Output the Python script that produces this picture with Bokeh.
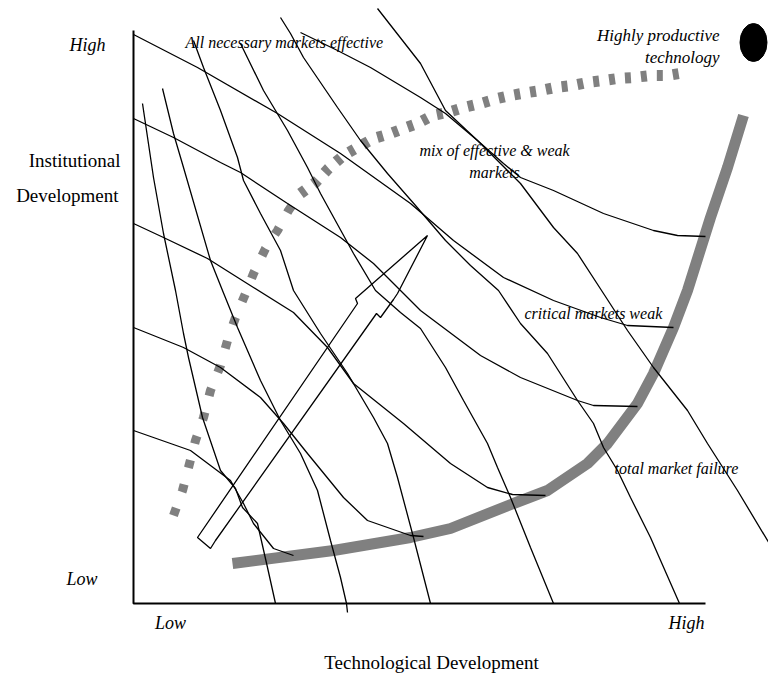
from bokeh.plotting import figure
from bokeh.models import Range1d
from bokeh.embed import file_html
from bokeh.resources import INLINE
from bokeh.core.properties import value

# ---- diagram data (diagram units, y grows downward) ----
axis_x = [133, 133, 705]
axis_y = [30, 603, 603]

# iso-curves from the institutional axis
A0_x = [300, 337, 370, 420, 445, 477, 503, 520, 553, 603, 653, 677, 705]
A0_y = [32, 50, 67, 97, 113, 140, 163, 177, 190, 213, 230, 235, 236]
A1_x = [133, 197, 277, 340, 410, 453, 503, 553, 600, 627, 673]
A1_y = [34, 67, 113, 153, 203, 240, 277, 300, 317, 325, 327]
A2_x = [133, 173, 220, 240, 287, 340, 373, 403, 420, 480, 520, 577, 593, 637]
A2_y = [118, 137, 162, 172, 203, 237, 263, 293, 310, 355, 377, 400, 405, 406]
A3_x = [133, 163, 207, 253, 293, 327, 353, 403, 450, 487, 512, 545]
A3_y = [223, 237, 258, 287, 312, 347, 383, 423, 463, 487, 494, 495]
A4_x = [133, 183, 220, 260, 283, 307, 343, 367, 410, 423]
A4_y = [327, 347, 367, 397, 423, 453, 497, 520, 535, 536]
A5_x = [133, 190, 230, 243, 253, 273, 293]
A5_y = [430, 450, 480, 503, 523, 548, 555]

# steep curves toward the technology axis
B1_x = [142, 153, 163, 175, 183, 188, 202, 220, 235, 242, 257, 267, 275]
B1_y = [103, 177, 233, 290, 333, 357, 417, 470, 488, 507, 523, 567, 603]
B2_x = [162, 173, 183, 210, 222, 237, 260, 280, 300, 317, 330, 340, 346, 347]
B2_y = [88, 133, 167, 260, 290, 327, 380, 420, 453, 490, 540, 577, 603, 612]
B3_x = [193, 203, 220, 237, 243, 260, 280, 293, 320, 347, 373, 387, 397, 413, 430]
B3_y = [40, 67, 110, 157, 180, 213, 250, 290, 333, 373, 417, 443, 477, 537, 603]
B4_x = [240, 263, 287, 307, 320, 353, 375, 400, 420, 445, 463, 487, 497, 510, 530, 553]
B4_y = [43, 90, 130, 167, 193, 253, 290, 312, 328, 367, 400, 443, 467, 497, 547, 603]
B5_x = [280, 290, 303, 337, 360, 387, 415, 445, 470, 498, 520, 547, 577, 593, 603, 617, 630, 650, 657, 679]
B5_y = [17, 33, 57, 107, 140, 173, 205, 240, 265, 290, 323, 353, 400, 423, 447, 470, 497, 537, 553, 603]
B6_x = [377, 420, 445, 477, 520, 553, 577, 603, 627, 653, 687, 707, 737, 770]
B6_y = [8, 63, 110, 140, 183, 227, 253, 293, 330, 367, 410, 443, 490, 545]

# thick grey paths
solid_x = [232, 333, 410, 450, 513, 547, 587, 607, 637, 653, 673, 687, 710, 727, 743]
solid_y = [563, 550, 537, 528, 503, 490, 463, 443, 403, 373, 327, 290, 217, 167, 115]
dashlo_x = [173, 182, 188, 195, 203, 210, 220, 227, 235, 245, 253, 265, 277, 288, 300]
dashlo_y = [515, 490, 467, 440, 417, 390, 365, 340, 317, 293, 273, 248, 230, 210, 193]
dashhi_x = [300, 315, 328, 343, 357, 373, 390, 403, 417, 432, 447, 463, 480, 497, 510, 527,
            540, 555, 572, 587, 603, 617, 633, 650, 667, 685]
dashhi_y = [193, 182, 168, 155, 147, 138, 133, 128, 123, 115, 112, 107, 103, 98, 95, 92,
            90, 87, 85, 82, 80, 78, 77, 75, 75, 72]

# hollow arrow outline
arrow_x = [197, 357, 355, 427, 397, 393, 380, 376, 215, 210]
arrow_y = [537, 303, 298, 235, 293, 299, 317, 313, 540, 548]

# goal marker
goal_x = [753]
goal_y = [42]

# labels
corner_labels = ["High", "Low", "Low", "High"]
corner_x = [105, 97, 170, 686]
corner_y = [44, 578, 622, 622]
corner_align = ["right", "right", "center", "center"]

note_labels = ["All necessary  markets effective", "mix of effective & weak", "markets",
               "critical markets weak", "total market failure"]
note_x = [185, 494, 494, 524, 614]
note_y = [42, 150, 172, 313, 468]
note_align = ["left", "center", "center", "left", "left"]

goal_labels = ["Highly productive", "technology"]
goal_lx = [719, 719]
goal_ly = [35, 57]

plain_labels = ["Institutional", "Development", "Technological Development"]
plain_x = [120, 118, 431]
plain_y = [160, 195, 662]
plain_align = ["right", "right", "center"]

W, H = 768, 676
p = figure(width=W, height=H, output_backend="svg", toolbar_location=None,
           x_range=Range1d(0, W), y_range=Range1d(H, 0),
           min_border=0, outline_line_color=None)
p.axis.visible = False
p.grid.visible = False
p.background_fill_color = "white"

# grey paths (behind)
p.line(solid_x, solid_y, line_color="#808080", line_width=11, line_cap="butt")
p.line(dashlo_x, dashlo_y, line_color="#808080", line_width=9, line_dash="8 17")
p.line(dashhi_x, dashhi_y, line_color="#808080", line_width=11, line_dash="6 10")

for xs, ys in [(A0_x, A0_y), (A1_x, A1_y), (A2_x, A2_y), (A3_x, A3_y), (A4_x, A4_y),
               (A5_x, A5_y), (B1_x, B1_y), (B2_x, B2_y), (B3_x, B3_y), (B4_x, B4_y),
               (B5_x, B5_y), (B6_x, B6_y)]:
    p.line(xs, ys, line_color="black", line_width=1.3)

p.patch(arrow_x, arrow_y, fill_color="white", fill_alpha=0.0, line_color="black", line_width=1.3)

p.line(axis_x, axis_y, line_color="black", line_width=2)

p.ellipse(goal_x, goal_y, width=27, height=38, fill_color="black", line_color="black")

serif = value("Liberation Serif")
p.text(corner_x, corner_y, text=corner_labels, text_font=serif, text_font_style="italic",
       text_font_size="18px", text_align=corner_align, text_baseline="middle", text_color="black")
p.text(note_x, note_y, text=note_labels, text_font=serif, text_font_style="italic",
       text_font_size="16px", text_align=note_align, text_baseline="middle", text_color="black")
p.text(goal_lx, goal_ly, text=goal_labels, text_font=serif, text_font_style="italic",
       text_font_size="17px", text_align="right", text_baseline="middle", text_color="black")
p.text(plain_x, plain_y, text=plain_labels, text_font=serif,
       text_font_size="19px", text_align=plain_align, text_baseline="middle",
       text_color="black")

open("out.html", "w").write(file_html(p, INLINE))
